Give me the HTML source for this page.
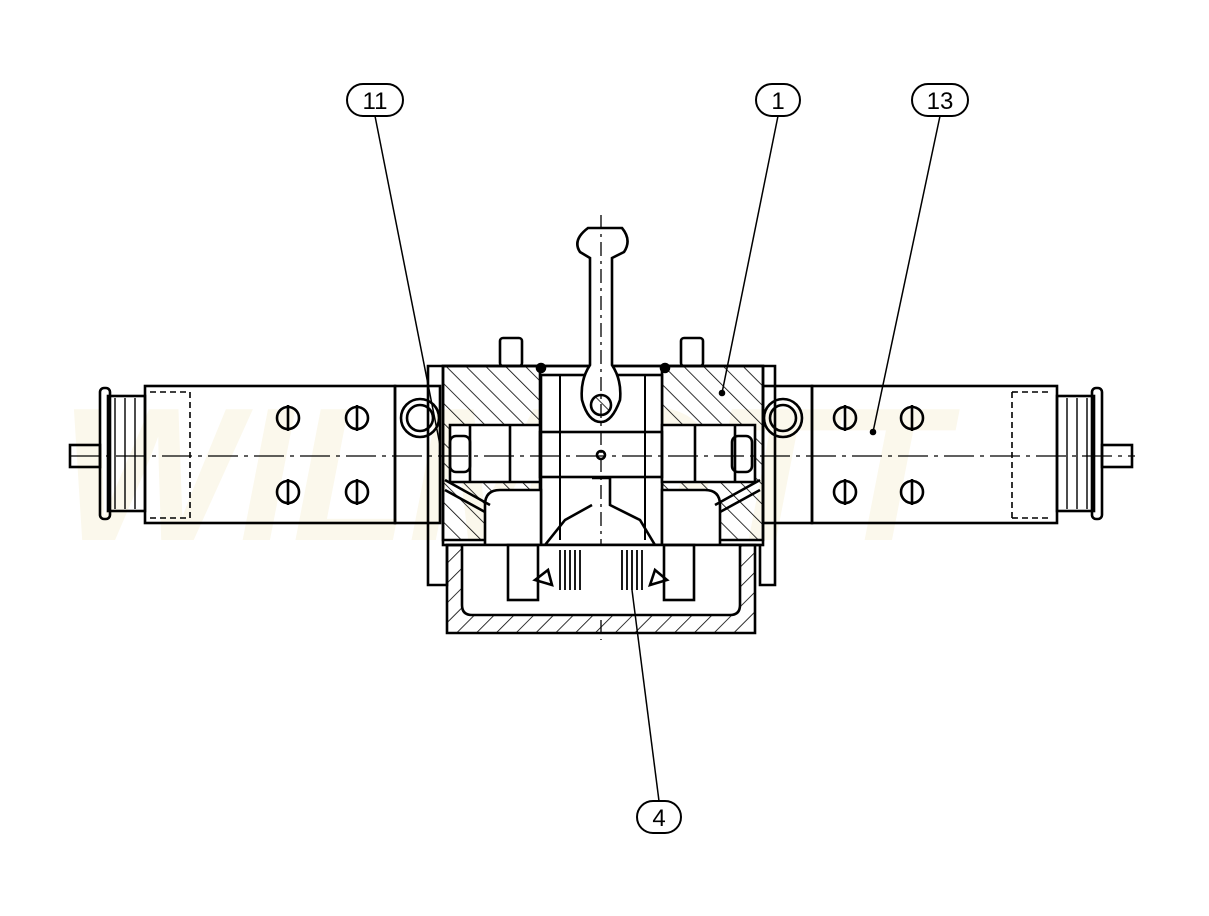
<!DOCTYPE html>
<html><head><style>body{margin:0;background:#fff}svg{display:block}</style></head><body>
<svg width="1209" height="916" viewBox="0 0 1209 916" xmlns="http://www.w3.org/2000/svg" fill="none" stroke="#000" stroke-width="2.6">
<defs>
<pattern id="h" width="14" height="14" patternUnits="userSpaceOnUse" patternTransform="rotate(-45)"><line x1="0" y1="0" x2="0" y2="14" stroke="#000" stroke-width="1.6"/></pattern>
<pattern id="h2" width="14" height="14" patternUnits="userSpaceOnUse" patternTransform="rotate(45)"><line x1="0" y1="0" x2="0" y2="14" stroke="#000" stroke-width="1.6"/></pattern>
</defs>
<!-- watermark -->
<text x="60" y="540" font-family="Liberation Sans,sans-serif" font-size="190" font-weight="bold" font-style="italic" fill="#fbf8ec" stroke="none">WILMOTT</text>
<!-- outer frame -->
<path d="M428 366H775V585H760V545H447V585H428Z"/>
<!-- hatched body -->
<path d="M443 366H540V540H443Z" fill="url(#h)"/>
<path d="M662 366H763V540H662Z" fill="url(#h)"/>
<rect x="443" y="366" width="320" height="179"/>
<!-- center cavity -->
<rect x="541" y="375" width="121" height="170" fill="#fff"/>
<path d="M560 375V540M645 375V540" stroke-width="2"/>
<!-- ports -->
<path d="M450 425H540V482H450Z" fill="#fff"/>
<path d="M662 425H755V482H662Z" fill="#fff"/>
<line x1="470" y1="425" x2="470" y2="482"/><line x1="510" y1="425" x2="510" y2="482"/>
<line x1="695" y1="425" x2="695" y2="482"/><line x1="735" y1="425" x2="735" y2="482"/>
<rect x="450" y="436" width="20" height="36" rx="6"/>
<rect x="732" y="436" width="20" height="36" rx="6"/>
<!-- lower cavities -->
<path d="M485 545V505Q485 490 500 490H541V545" fill="#fff"/>
<path d="M720 545V505Q720 490 705 490H662V545" fill="#fff"/>
<line x1="445" y1="480" x2="490" y2="505"/><line x1="445" y1="490" x2="485" y2="512"/>
<line x1="760" y1="480" x2="715" y2="505"/><line x1="760" y1="490" x2="720" y2="512"/>
<!-- spool -->
<rect x="540" y="432" width="122" height="45"/>
<circle cx="601" cy="455" r="4"/>
<!-- studs -->
<rect x="500" y="338" width="22" height="28" rx="3"/>
<rect x="681" y="338" width="22" height="28" rx="3"/>
<circle cx="541" cy="368" r="4" fill="#000"/><circle cx="665" cy="368" r="4" fill="#000"/>
<!-- lever -->
<path d="M588 228H622Q632 240 624 252L612 258V365Q622 380 620 400Q612 422 601 422Q588 422 582 400Q580 380 590 365V258L580 252Q572 240 588 228Z" fill="#fff"/>
<circle cx="601" cy="405" r="10" fill="url(#h)"/>
<line x1="601" y1="215" x2="601" y2="640" stroke-dasharray="14 5 3 5" stroke-width="1.3"/>
<!-- fork -->
<path d="M592 478H610V505L640 520L655 545L650 590M592 505L565 520L545 545L540 590" />
<!-- bottom box -->
<path d="M447 545H755V633H447Z" fill="url(#h2)"/>
<path d="M462 545H740V605Q740 615 730 615H472Q462 615 462 605Z" fill="#fff"/>
<rect x="508" y="545" width="30" height="55"/><rect x="664" y="545" width="30" height="55"/>
<g stroke-width="1.8">
<path d="M560 550V590M565 550V590M570 550V590M575 550V590M580 550V590"/>
<path d="M622 550V590M627 550V590M632 550V590M637 550V590M642 550V590"/>
</g>
<path d="M535 580L548 570L552 585Z"/><path d="M667 580L655 570L650 585Z"/>
<!-- center axis -->
<line x1="70" y1="456" x2="1135" y2="456" stroke-dasharray="30 6 4 6" stroke-width="1.3"/>
<!-- left solenoid -->
<rect x="145" y="386" width="250" height="137"/>
<rect x="395" y="386" width="45" height="137"/>
<line x1="190" y1="392" x2="190" y2="518" stroke-dasharray="6 4" stroke-width="1.6"/>
<line x1="150" y1="392" x2="190" y2="392" stroke-dasharray="6 4" stroke-width="1.6"/>
<line x1="150" y1="518" x2="190" y2="518" stroke-dasharray="6 4" stroke-width="1.6"/>
<rect x="108" y="396" width="37" height="115"/>
<rect x="100" y="388" width="10" height="131" rx="4"/>
<path d="M115 398V509M125 398V509M135 398V509" stroke-width="1.4"/>
<rect x="70" y="445" width="30" height="22"/>
<circle cx="420" cy="418" r="19"/><circle cx="420" cy="418" r="13"/>
<g><circle cx="288" cy="418" r="11"/><circle cx="357" cy="418" r="11"/><circle cx="288" cy="492" r="11"/><circle cx="357" cy="492" r="11"/>
<path d="M288 405V431M357 405V431M288 479V505M357 479V505"/></g>
<!-- right solenoid -->
<rect x="812" y="386" width="245" height="137"/>
<rect x="763" y="386" width="49" height="137"/>
<line x1="1012" y1="392" x2="1012" y2="518" stroke-dasharray="6 4" stroke-width="1.6"/>
<line x1="1012" y1="392" x2="1052" y2="392" stroke-dasharray="6 4" stroke-width="1.6"/>
<line x1="1012" y1="518" x2="1052" y2="518" stroke-dasharray="6 4" stroke-width="1.6"/>
<rect x="1057" y="396" width="37" height="115"/>
<rect x="1092" y="388" width="10" height="131" rx="4"/>
<path d="M1067 398V509M1077 398V509M1087 398V509" stroke-width="1.4"/>
<rect x="1102" y="445" width="30" height="22"/>
<circle cx="783" cy="418" r="19"/><circle cx="783" cy="418" r="13"/>
<g><circle cx="845" cy="418" r="11"/><circle cx="912" cy="418" r="11"/><circle cx="845" cy="492" r="11"/><circle cx="912" cy="492" r="11"/>
<path d="M845 405V431M912 405V431M845 479V505M912 479V505"/></g>
<!-- leaders -->
<g stroke-width="1.5">
<line x1="375" y1="116" x2="440" y2="445"/>
<line x1="778" y1="116" x2="722" y2="393"/>
<line x1="940" y1="116" x2="873" y2="432"/>
<line x1="659" y1="801" x2="632" y2="590"/>
</g>
<circle cx="722" cy="393" r="2" fill="#000"/><circle cx="873" cy="432" r="2" fill="#000"/>
<g fill="#fff" stroke-width="2">
<rect x="347" y="84" width="56" height="32" rx="16"/>
<rect x="756" y="84" width="44" height="32" rx="16"/>
<rect x="912" y="84" width="56" height="32" rx="16"/>
<rect x="637" y="801" width="44" height="32" rx="16"/>
</g>
<g font-family="Liberation Sans,sans-serif" font-size="24" fill="#000" stroke="none" text-anchor="middle">
<text x="375" y="109">11</text><text x="778" y="109">1</text><text x="940" y="109">13</text><text x="659" y="826">4</text>
</g>
</svg>
</body></html>
